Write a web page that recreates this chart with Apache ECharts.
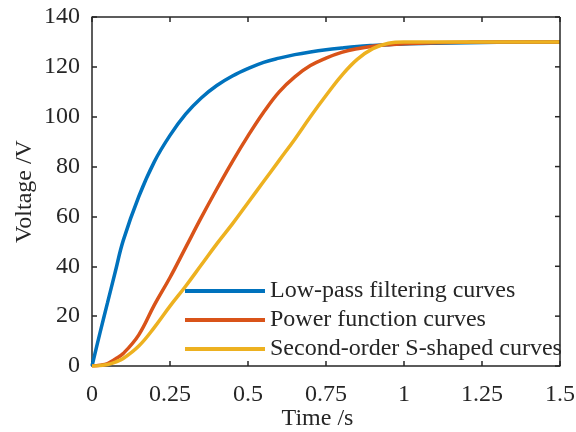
<!DOCTYPE html>
<html>
<head>
<meta charset="utf-8">
<script src="https://cdn.jsdelivr.net/npm/echarts@6/dist/echarts.min.js"></script>
<style>
  html, body { margin: 0; padding: 0; background: #fff; }
  #chart { width: 576px; height: 432px; }
</style>
</head>
<body>
<div id="chart"></div>
<script>
// time in s, voltage in V
var times = [0, 0.025, 0.05, 0.075, 0.1, 0.15, 0.2, 0.25, 0.3, 0.35, 0.4, 0.45, 0.5, 0.55,
  0.6, 0.65, 0.7, 0.75, 0.8, 0.85, 0.9, 0.95, 1.0, 1.1, 1.2, 1.3, 1.4, 1.5];
var lowPass = [0, 13, 25.5, 38, 50.3, 68, 82, 92.5, 101, 107.5, 112.5, 116.3, 119.3, 121.8,
  123.5, 124.9, 126, 126.9, 127.6, 128.2, 128.6, 128.9, 129.2, 129.5, 129.7, 129.85, 129.95, 130];
var power = [0, 0.3, 1, 2.8, 5, 12.5, 24.5, 35.5, 47.5, 59.5, 71, 82, 92.3, 101.8,
  110, 116, 120.5, 123.5, 125.8, 127.3, 128.3, 128.9, 129.3, 129.7, 129.9, 130, 130, 130];
var sCurve = [0, 0.15, 0.6, 1.6, 3, 8, 15.5, 24, 32, 40.5, 49, 57, 65.5, 74,
  82.5, 91, 100, 108.5, 116.5, 123, 127.3, 129.5, 130, 130, 130, 130, 130, 130];
var names = ['Low-pass filtering curves', 'Power function curves', 'Second-order S-shaped curves'];
var colors = ['#0072BD', '#D95319', '#EDB120'];
var xTicks = [0, 0.25, 0.5, 0.75, 1, 1.25, 1.5];
var yTicks = [0, 20, 40, 60, 80, 100, 120, 140];

var font = 'Liberation Serif';
var ink = '#262626';

function pairs(ys) {
  return times.map(function (t, i) { return [t, ys[i]]; });
}

function lineOpt() {
  return { show: true, onZero: false, lineStyle: { color: ink, width: 1.5 } };
}
function tickOpt() {
  return { show: true, inside: true, length: 5, lineStyle: { color: ink, width: 1.5 } };
}
function textOpt(extra) {
  return Object.assign({ fontFamily: font, fontSize: 24, color: ink }, extra || {});
}

var chart = echarts.init(document.getElementById('chart'));

var series = [lowPass, power, sCurve].map(function (ys, i) {
  return {
    name: names[i],
    type: 'line',
    data: pairs(ys),
    showSymbol: false,
    smooth: 0.4,
    lineStyle: { color: colors[i], width: 3.5 },
    itemStyle: { color: colors[i] },
    z: 3 + i
  };
});

chart.setOption({
  animation: false,
  grid: { left: 92, right: 16, top: 17, bottom: 66, outerBoundsMode: 'none' },
  legend: {
    orient: 'vertical',
    left: 185,
    top: 279,
    padding: 0,
    itemWidth: 80,
    itemHeight: 4,
    itemGap: 5,
    icon: 'rect',
    textStyle: textOpt(),
    data: names
  },
  xAxis: {
    type: 'value', min: 0, max: 1.5, interval: 0.25,
    name: 'Time /s', nameLocation: 'middle', nameGap: 41, nameMoveOverlap: false,
    nameTextStyle: textOpt({ padding: [0, 17, 0, 0] }),
    axisLine: lineOpt(), axisTick: tickOpt(), splitLine: { show: false },
    axisLabel: textOpt({ margin: 17 })
  },
  yAxis: {
    type: 'value', min: 0, max: 140, interval: 20,
    name: 'Voltage /V', nameLocation: 'middle', nameGap: 55, nameMoveOverlap: false,
    nameTextStyle: textOpt(),
    axisLine: lineOpt(), axisTick: tickOpt(), splitLine: { show: false },
    axisLabel: textOpt({ margin: 12 })
  },
  series: series
});

// top and right edges of the box with inward ticks, placed through the chart's own scales
function px(x, y) {
  return chart.convertToPixel({ gridIndex: 0 }, [x, y]);
}
function seg(a, b) {
  return {
    type: 'line', z: 10, silent: true,
    shape: { x1: a[0], y1: a[1], x2: b[0], y2: b[1] },
    style: { stroke: ink, lineWidth: 1.5 }
  };
}
var xMin = xTicks[0], xMax = xTicks[xTicks.length - 1];
var yMin = yTicks[0], yMax = yTicks[yTicks.length - 1];
var frame = [seg(px(xMin, yMax), px(xMax, yMax)), seg(px(xMax, yMax), px(xMax, yMin))];
xTicks.forEach(function (v) {
  var p = px(v, yMax);
  frame.push(seg(p, [p[0], p[1] + 5]));
});
yTicks.forEach(function (v) {
  var p = px(xMax, v);
  frame.push(seg(p, [p[0] - 5, p[1]]));
});
chart.setOption({ graphic: frame });
</script>
</body>
</html>
